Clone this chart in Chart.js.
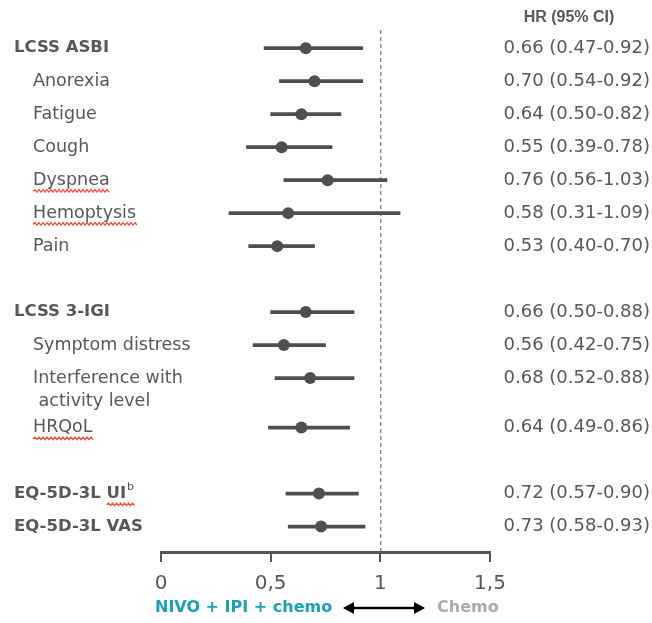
<!DOCTYPE html>
<html>
<head>
<meta charset="utf-8">
<script src="https://cdn.jsdelivr.net/npm/chart.js@4.4.1/dist/chart.umd.min.js"></script>
<style>
  body { margin: 0; background: #fff; }
  #wrap { width: 652px; height: 623px; }
</style>
</head>
<body>
<div id="wrap"><canvas id="forest" width="652" height="623"></canvas></div>
<script>
const rowLabels = ['LCSS ASBI', 'Anorexia', 'Fatigue', 'Cough', 'Dyspnea', 'Hemoptysis', 'Pain',
    'LCSS 3-IGI', 'Symptom distress', ['Interference with', ' activity level'], 'HRQoL',
    'EQ-5D-3L UI', 'EQ-5D-3L VAS'];
const hrValues = [0.66, 0.70, 0.64, 0.55, 0.76, 0.58, 0.53, 0.66, 0.56, 0.68, 0.64, 0.72, 0.73];
const ciLower = [0.47, 0.54, 0.50, 0.39, 0.56, 0.31, 0.40, 0.50, 0.42, 0.52, 0.49, 0.57, 0.58];
const ciUpper = [0.92, 0.92, 0.82, 0.78, 1.03, 1.09, 0.70, 0.88, 0.75, 0.88, 0.86, 0.90, 0.93];
const groupHeads = [0, 7, 11, 12];   // bold rows at the margin
const groupBreaks = [7, 11];         // blank row before these
const superscripts = {11: 'b'};
const spellMarked = [4, 5, 10, 11];  // red squiggle under the last word
const xTicks = [0, 0.5, 1, 1.5];
const xTickLabels = ['0', '0,5', '1', '1,5'];

const FONT = '"DejaVu Sans", sans-serif';
const GREY = '#595959';
const MARK = '#524e4c';

// row slots: one per line of label, an empty one between groups
let rowPos = [];
let u = 0;
rowLabels.forEach(function (l, i) {
    if (groupBreaks.includes(i)) u += 1;
    rowPos.push(u);
    u += Array.isArray(l) ? 1.5 : 1;
});

function fmt(v) { return v.toFixed(2); }

function squiggle(c, x1, x2, y) {
    c.save();
    c.strokeStyle = '#f0524a';
    c.lineWidth = 1.4;
    c.beginPath();
    c.moveTo(x1, y);
    let up = true;
    for (let x = x1 + 2; x <= x2; x += 2) {
        c.lineTo(x, up ? y - 1.5 : y + 1);
        up = !up;
    }
    c.stroke();
    c.restore();
}

const refLine = {
    id: 'refLine',
    beforeDatasetsDraw(chart) {
        const c = chart.ctx, a = chart.chartArea;
        const x = chart.scales.x.getPixelForValue(1);
        c.save();
        c.strokeStyle = '#555';
        c.lineWidth = 1;
        c.setLineDash([4, 3]);
        c.beginPath();
        c.moveTo(x + 0.5, a.top);
        c.lineTo(x + 0.5, a.bottom);
        c.stroke();
        c.restore();
    }
};

const textCols = {
    id: 'textCols',
    afterDraw(chart) {
        const c = chart.ctx;
        const ys = chart.scales.y;
        c.save();
        c.textBaseline = 'middle';
        c.fillStyle = GREY;

        c.font = 'bold 16px "Liberation Sans", sans-serif';
        c.textAlign = 'center';
        c.fillText('HR (95% CI)', 569, 18);

        rowLabels.forEach(function (l, i) {
            const y = ys.getPixelForValue(rowPos[i]);
            const head = groupHeads.includes(i);
            const x = head ? 14 : 33;
            const f = head ? 'bold 16.5px ' + FONT : '17.5px ' + FONT;
            c.textAlign = 'left';
            c.fillStyle = GREY;
            c.font = f;
            const lines = Array.isArray(l) ? l : [l];
            lines.forEach(function (t, k) {
                c.fillText(t, x, y + k * 23);
            });
            let w = c.measureText(lines[0]).width;
            if (superscripts[i]) {
                c.font = '11px ' + FONT;
                c.fillText(superscripts[i], x + w + 1, y - 6);
                w += c.measureText(superscripts[i]).width + 2;
                c.font = f;
            }
            if (spellMarked.includes(i)) {
                const words = lines[0].split(' ');
                const last = words[words.length - 1];
                const start = x + c.measureText(lines[0]).width - c.measureText(last).width;
                squiggle(c, start, x + w + 1, y + 11);
            }
            c.font = '18px ' + FONT;
            c.textAlign = 'right';
            c.fillText(fmt(hrValues[i]) + ' (' + fmt(ciLower[i]) + '-' + fmt(ciUpper[i]) + ')', 650, y);
        });

        // direction legend under the axis
        const ly = 608;
        c.textAlign = 'left';
        c.font = 'bold 16px ' + FONT;
        c.fillStyle = '#1ba1b9';
        c.fillText('NIVO + IPI + chemo', 155, ly);
        c.fillStyle = '#ababab';
        c.fillText('Chemo', 437, ly);

        c.strokeStyle = '#000';
        c.fillStyle = '#000';
        c.lineWidth = 2.5;
        c.beginPath();
        c.moveTo(350, ly);
        c.lineTo(418, ly);
        c.stroke();
        c.beginPath();
        c.moveTo(343, ly); c.lineTo(354, ly - 6); c.lineTo(354, ly + 6); c.closePath();
        c.fill();
        c.beginPath();
        c.moveTo(425, ly); c.lineTo(414, ly - 6); c.lineTo(414, ly + 6); c.closePath();
        c.fill();
        c.restore();
    }
};

new Chart(document.getElementById('forest'), {
    type: 'scatter',
    data: {
        datasets: [
            {
                type: 'bar',
                indexAxis: 'y',
                data: rowPos.map(function (p, i) { return {y: p, x: [ciLower[i], ciUpper[i]]}; }),
                backgroundColor: MARK,
                barThickness: 3,
                borderWidth: 0
            },
            {
                type: 'scatter',
                data: rowPos.map(function (p, i) { return {x: hrValues[i], y: p}; }),
                backgroundColor: MARK,
                borderWidth: 0,
                pointRadius: 6
            }
        ]
    },
    plugins: [refLine, textCols],
    options: {
        responsive: false,
        animation: false,
        layout: {padding: {top: 30, left: 161, right: 162, bottom: 17}},
        plugins: {legend: {display: false}, tooltip: {enabled: false}},
        scales: {
            x: {
                type: 'linear',
                min: 0,
                max: 1.5,
                afterBuildTicks: function (s) { s.ticks = xTicks.map(function (v) { return {value: v}; }); },
                ticks: {
                    color: GREY,
                    font: {family: FONT, size: 20},
                    padding: 10,
                    maxRotation: 0,
                    callback: function (v) { return xTickLabels[xTicks.indexOf(v)]; }
                },
                grid: {drawOnChartArea: false, drawTicks: true, tickLength: 10, color: '#555', lineWidth: 2},
                border: {display: true, color: '#555', width: 3}
            },
            y: {
                type: 'linear',
                reverse: true,
                offset: false,
                min: -0.55,
                max: 15.27,
                display: false
            }
        }
    }
});
</script>
</body>
</html>
